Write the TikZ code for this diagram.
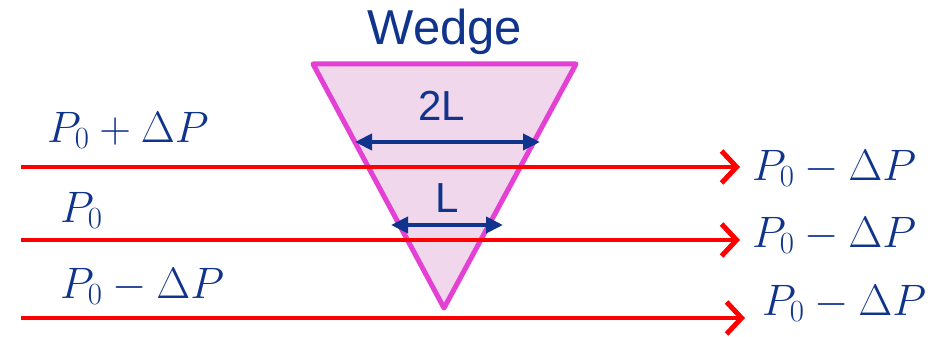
\RequirePackage{fix-cm}
\documentclass[tikz,border=0pt]{standalone}
\usepackage{fontspec}
\setmainfont{Liberation Sans}
\usetikzlibrary{arrows.meta}
\definecolor{navy}{RGB}{16,52,140}
\definecolor{flowred}{RGB}{255,0,0}
\definecolor{wedgeline}{RGB}{228,64,212}
\definecolor{wedgefill}{RGB}{240,215,236}
\tikzset{
  wedgeshape/.style={draw=wedgeline, fill=wedgefill, line width=5pt, line join=round},
  flow/.style={draw=flowred, line width=4.5pt, -{Straight Barb[length=15pt,width=32pt,line width=5pt]}},
  dim/.style={draw=navy, line width=4pt, {Triangle[length=17pt,width=16pt]}-{Triangle[length=17pt,width=16pt]}},
  sanslbl/.style={text=navy, inner sep=0pt, anchor=base},
  mathlbl/.style={text=navy, inner sep=0pt, anchor=base west, font=\fontsize{44}{44}\selectfont}
}
\begin{document}
\begin{tikzpicture}[x=1pt,y=-1pt]
\useasboundingbox (0,0) rectangle (945,337);
% wedge
\coordinate (A) at (313,64);
\coordinate (B) at (576,64);
\coordinate (C) at (444,308);
\draw[wedgeshape] (A) -- (B) -- (C) -- cycle;
% flows
\coordinate (s1) at (21,167); \coordinate (e1) at (740,167);
\coordinate (s2) at (21,240); \coordinate (e2) at (740,240);
\coordinate (s3) at (21,318); \coordinate (e3) at (745,318);
\draw[flow] (s1) -- (e1);
\draw[flow] (s2) -- (e2);
\draw[flow] (s3) -- (e3);
% dimension arrows
\coordinate (d1l) at (355,142); \coordinate (d1r) at (540,142);
\coordinate (d2l) at (391,225); \coordinate (d2r) at (503,225);
\draw[dim] (d1l) -- (d1r);
\draw[dim] (d2l) -- (d2r);
% labels
\node[sanslbl, font=\fontsize{49}{49}\selectfont] (wedge) at (445,45) {Wedge};
\node[sanslbl, font=\fontsize{42}{42}\selectfont] (twoL) at (442,120) {2L};
\node[sanslbl, font=\fontsize{42}{42}\selectfont] (oneL) at (447,212) {L};
\node[mathlbl] (in1) at (47,142) {$P_0+\Delta P$};
\node[mathlbl] (in2) at (60,222) {$P_0$};
\node[mathlbl] (in3) at (60,298) {$P_0-\Delta P$};
\node[mathlbl] (out1) at (752,180) {$P_0-\Delta P$};
\node[mathlbl] (out2) at (752,247) {$P_0-\Delta P$};
\node[mathlbl] (out3) at (762,315) {$P_0-\Delta P$};
\end{tikzpicture}
\end{document}
